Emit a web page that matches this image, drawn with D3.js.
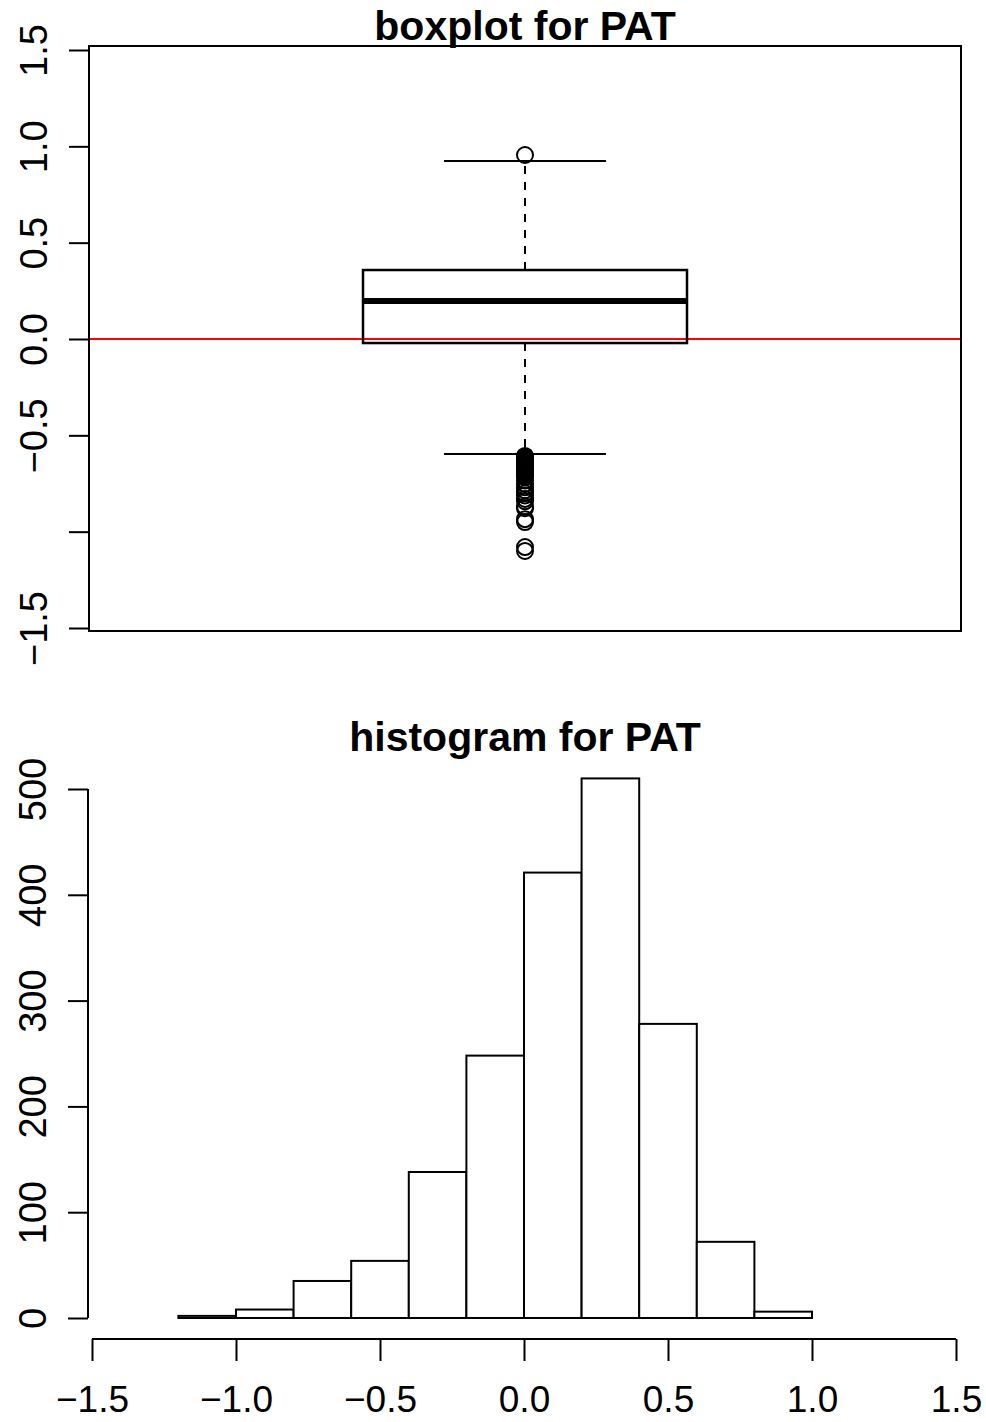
<!DOCTYPE html>
<html>
<head>
<meta charset="utf-8">
<script src="https://cdn.jsdelivr.net/npm/d3@7"></script>
<style>
  html, body { margin: 0; padding: 0; background: #fff; }
  svg { display: block; font-family: "Liberation Sans", Arial, Helvetica, sans-serif; }
</style>
</head>
<body>
<svg id="chart" width="986" height="1422"></svg>
<script>
// ---------- data ----------
const boxTitle = "boxplot for PAT";
const histTitle = "histogram for PAT";

// boxplot statistics
const whiskerLow = -0.597;
const q1 = -0.021;
const median = 0.197;
const q3 = 0.358;
const whiskerHigh = 0.924;
const outliers = [0.955,
  -0.607, -0.612, -0.618, -0.623, -0.628, -0.634, -0.640, -0.645, -0.650,
  -0.656, -0.662, -0.668, -0.673, -0.680, -0.686, -0.692, -0.700, -0.708,
  -0.716, -0.735, -0.752, -0.770, -0.785, -0.800, -0.812, -0.830, -0.842,
  -0.870, -0.878, -0.935, -0.950, -1.080, -1.100];
const boxYTicks = [-1.5, -1.0, -0.5, 0.0, 0.5, 1.0, 1.5];
const boxYTickLabels = ["\u22121.5", "", "\u22120.5", "0.0", "0.5", "1.0", "1.5"];
const refLineValue = 0;

// histogram
const binEdges = [-1.2, -1.0, -0.8, -0.6, -0.4, -0.2, 0.0, 0.2, 0.4, 0.6, 0.8, 1.0];
const binCounts = [2, 8, 35, 54, 138, 248, 421, 510, 278, 72, 6];
const histXTicks = [-1.5, -1.0, -0.5, 0.0, 0.5, 1.0, 1.5];
const histXTickLabels = ["\u22121.5", "\u22121.0", "\u22120.5", "0.0", "0.5", "1.0", "1.5"];
const histYTicks = [0, 100, 200, 300, 400, 500];
const histYTickLabels = ["0", "100", "200", "300", "400", "500"];

// ---------- drawing ----------
const svg = d3.select("#chart");
const tickFont = 38, titleFont = 41;

// ===== boxplot =====
const bx0 = 89, bx1 = 961, by0 = 46, by1 = 631;
const yB = d3.scaleLinear().domain([-1.5, 1.5]).range([628, 50]);
const xB = d3.scaleLinear().domain([0.5, 1.5]).range([bx0, bx1]); // one box at 1
const boxHalf = 162 / (bx1 - bx0); // box half-width in domain units
const cx = 1.0;

const gB = svg.append("g");
gB.append("text").attr("x", (bx0 + bx1) / 2).attr("y", 40)
  .attr("text-anchor", "middle").attr("font-size", titleFont).attr("font-weight", "bold")
  .text(boxTitle);

// y axis
const axB = d3.axisLeft(yB).tickValues(boxYTicks).tickSize(20).tickFormat((d, i) => boxYTickLabels[i]);
const gAxB = gB.append("g").attr("transform", `translate(${bx0},0)`).call(axB);
gAxB.select(".domain").remove();
gAxB.selectAll(".tick line").attr("stroke", "#000").attr("stroke-width", 2);
gAxB.selectAll(".tick text").attr("font-size", tickFont).attr("fill", "#000")
  .attr("text-anchor", "middle").attr("dy", 0).attr("x", 0)
  .attr("transform", `translate(-42,0) rotate(-90)`);

// reference line
gB.append("line").attr("x1", bx0).attr("x2", bx1)
  .attr("y1", yB(refLineValue)).attr("y2", yB(refLineValue))
  .attr("stroke", "#ff0000").attr("stroke-width", 2);

// whiskers (dashed)
gB.append("line").attr("x1", xB(cx)).attr("x2", xB(cx)).attr("y1", yB(q3)).attr("y2", yB(whiskerHigh))
  .attr("stroke", "#000").attr("stroke-width", 2).attr("stroke-dasharray", "8,8");
gB.append("line").attr("x1", xB(cx)).attr("x2", xB(cx)).attr("y1", yB(q1)).attr("y2", yB(whiskerLow))
  .attr("stroke", "#000").attr("stroke-width", 2).attr("stroke-dasharray", "8,8");
// staples
[whiskerHigh, whiskerLow].forEach(v => {
  gB.append("line").attr("x1", xB(cx - boxHalf / 2)).attr("x2", xB(cx + boxHalf / 2))
    .attr("y1", yB(v)).attr("y2", yB(v)).attr("stroke", "#000").attr("stroke-width", 2);
});
// box
gB.append("rect").attr("x", xB(cx - boxHalf)).attr("y", yB(q3))
  .attr("width", xB(cx + boxHalf) - xB(cx - boxHalf)).attr("height", yB(q1) - yB(q3))
  .attr("fill", "none").attr("stroke", "#000").attr("stroke-width", 2.5);
// median
gB.append("line").attr("x1", xB(cx - boxHalf)).attr("x2", xB(cx + boxHalf))
  .attr("y1", yB(median)).attr("y2", yB(median)).attr("stroke", "#000").attr("stroke-width", 6);
// outliers
gB.selectAll("circle.out").data(outliers).enter().append("circle")
  .attr("cx", xB(cx)).attr("cy", d => yB(d)).attr("r", 8)
  .attr("fill", "none").attr("stroke", "#000").attr("stroke-width", 2);
// plot frame
gB.append("rect").attr("x", bx0).attr("y", by0).attr("width", bx1 - bx0).attr("height", by1 - by0)
  .attr("fill", "none").attr("stroke", "#000").attr("stroke-width", 2);

// ===== histogram =====
const xH = d3.scaleLinear().domain([-1.5, 1.5]).range([92, 956]);
const yH = d3.scaleLinear().domain([0, 500]).range([1318, 789]);
const gH = svg.append("g");
gH.append("text").attr("x", 525).attr("y", 751)
  .attr("text-anchor", "middle").attr("font-size", titleFont).attr("font-weight", "bold")
  .text(histTitle);

const bins = binCounts.map((c, i) => ({ x0: binEdges[i], x1: binEdges[i + 1], c }));
gH.selectAll("rect.bar").data(bins).enter().append("rect")
  .attr("x", d => xH(d.x0)).attr("width", d => xH(d.x1) - xH(d.x0))
  .attr("y", d => yH(d.c)).attr("height", d => yH(0) - yH(d.c))
  .attr("fill", "#fff").attr("stroke", "#000").attr("stroke-width", 2);

// x axis
const axHX = d3.axisBottom(xH).tickValues(histXTicks).tickSize(22).tickPadding(30)
  .tickFormat((d, i) => histXTickLabels[i]);
const gAxHX = gH.append("g").attr("transform", "translate(0,1339)").call(axHX);
gAxHX.select(".domain").attr("d", `M${xH(-1.5)},0H${xH(1.5)}`).attr("stroke", "#000").attr("stroke-width", 2);
gAxHX.selectAll(".tick line").attr("stroke", "#000").attr("stroke-width", 2);
gAxHX.selectAll(".tick text").attr("font-size", 37).attr("fill", "#000")
  .attr("dy", 0).attr("y", 73);

// y axis
const axHY = d3.axisLeft(yH).tickValues(histYTicks).tickSize(20).tickFormat((d, i) => histYTickLabels[i]);
const gAxHY = gH.append("g").attr("transform", "translate(88,0)").call(axHY);
gAxHY.select(".domain").attr("d", `M0,${yH(0)}V${yH(500)}`).attr("stroke", "#000").attr("stroke-width", 2);
gAxHY.selectAll(".tick line").attr("stroke", "#000").attr("stroke-width", 2);
gAxHY.selectAll(".tick text").attr("font-size", tickFont).attr("fill", "#000")
  .attr("text-anchor", "middle").attr("dy", 0).attr("x", 0)
  .attr("transform", `translate(-42,0) rotate(-90)`);
</script>
</body>
</html>
